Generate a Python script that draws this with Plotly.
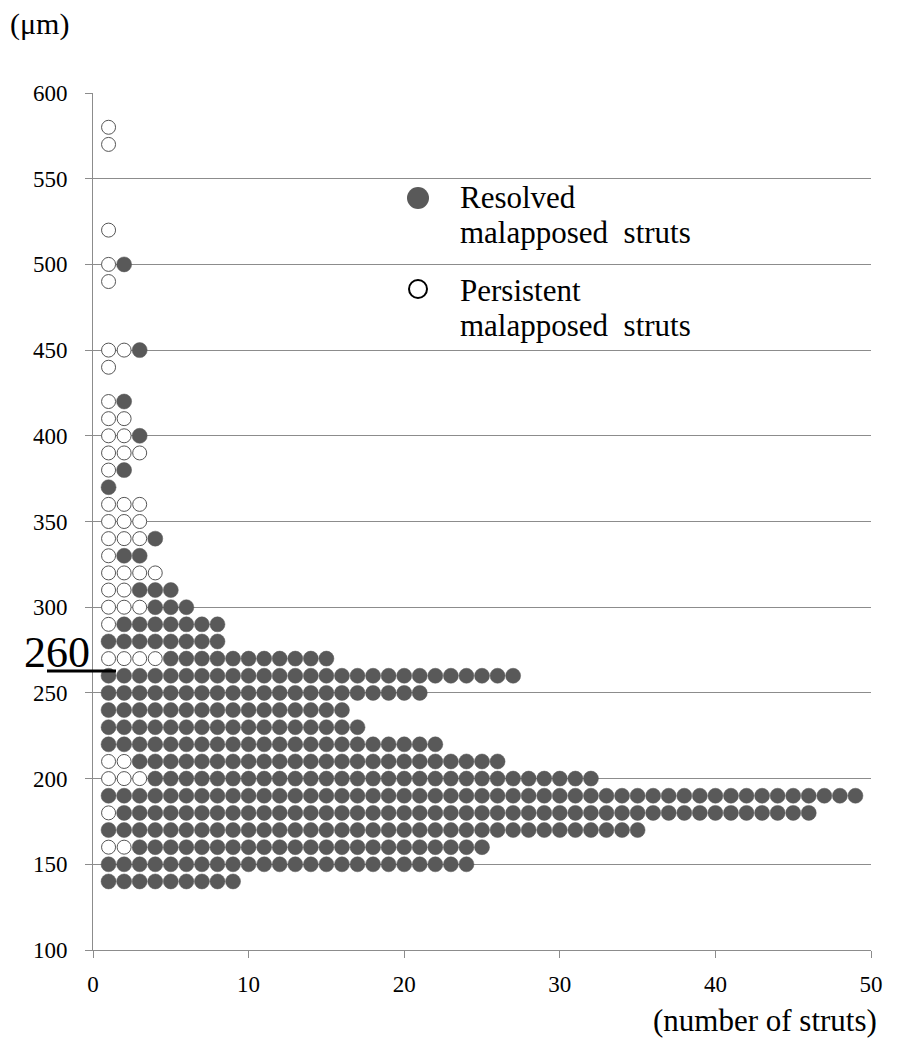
import plotly.graph_objects as go

# ---- data ----
depth_um = [580, 570, 520, 500, 490, 450, 440, 420, 410, 400, 390, 380, 370,
            360, 350, 340, 330, 320, 310, 300, 290, 280, 270, 260, 250, 240,
            230, 220, 210, 200, 190, 180, 170, 160, 150, 140]
struts_per_row = [1, 1, 1, 2, 1, 3, 1, 2, 2, 3, 3, 2, 1,
                  3, 3, 4, 3, 4, 5, 6, 8, 8, 15, 27, 21, 16,
                  17, 22, 26, 32, 49, 46, 35, 25, 24, 9]
persistent_pos = [[1], [1], [1], [1], [1], [1, 2], [1], [1], [1, 2], [1, 2], [1, 2, 3], [1], [],
                  [1, 2, 3], [1, 2, 3], [1, 2, 3], [1], [1, 2, 3, 4], [1, 2], [1, 2, 3], [1], [], [1, 2, 3, 4], [], [], [],
                  [], [], [1, 2], [1, 2, 3], [], [1], [], [1, 2], [], []]

x_ticks = [0, 10, 20, 30, 40, 50]
y_ticks = [100, 150, 200, 250, 300, 350, 400, 450, 500, 550, 600]
legend_labels = ["Resolved", "malapposed\u00a0 struts", "Persistent", "malapposed\u00a0 struts"]

# ---- build marks ----
res_x, res_y, per_x, per_y = [], [], [], []
for d, n, pers in zip(depth_um, struts_per_row, persistent_pos):
    for k in range(1, n + 1):
        if k in pers:
            per_x.append(k); per_y.append(d)
        else:
            res_x.append(k); res_y.append(d)

DARK = "#595959"
GRID = "#8c8c8c"
FONT = "Times New Roman, Liberation Serif, Times, serif"

fig = go.Figure()
fig.add_trace(go.Scatter(x=res_x, y=res_y, mode="markers", name="Resolved malapposed struts",
                         marker=dict(size=15, color=DARK, line=dict(width=0.5, color=DARK)),
                         cliponaxis=False, showlegend=False))
fig.add_trace(go.Scatter(x=per_x, y=per_y, mode="markers", name="Persistent malapposed struts",
                         marker=dict(size=14, color="white", line=dict(width=1, color="#555555")),
                         cliponaxis=False, showlegend=False))

O = 8  # page offset of the figure inside the browser
W, H = 903 - O, 1052 - O
L, R, T, B = 93 - O, 32, 93 - O, 102
pw, ph = W - L - R, H - T - B


def px(xp):
    return (xp - O - L) / pw


def py(yp):
    return (H - B - (yp - O)) / ph


fig.update_layout(
    width=W, height=H,
    margin=dict(l=L, r=R, t=T, b=B),
    paper_bgcolor="white", plot_bgcolor="white",
    font=dict(family=FONT, color="black", size=22),
    showlegend=False,
    xaxis=dict(range=[0, 50], tickvals=x_ticks, showgrid=False, zeroline=False,
               showline=True, linecolor=GRID, linewidth=1,
               ticks="outside", ticklen=7, tickcolor=GRID,
               tickfont=dict(family=FONT, size=23, color="black"), ticklabelstandoff=6),
    yaxis=dict(range=[100, 600], tickvals=y_ticks, showgrid=True, gridcolor=GRID, gridwidth=1,
               zeroline=False, showline=True, linecolor=GRID, linewidth=1,
               ticks="outside", ticklen=7, tickcolor=GRID,
               tickfont=dict(family=FONT, size=23, color="black"), ticklabelstandoff=13),
)

annos = [
    dict(text="(\u03bcm)", x=px(8), y=py(24), xanchor="left", yanchor="middle", font=dict(size=30)),
    dict(text="(number of struts)", x=px(879), y=py(1020), xanchor="right", yanchor="middle", font=dict(size=31)),
    dict(text="260", x=px(57), y=py(652), xanchor="center", yanchor="middle", font=dict(size=44)),
    dict(text=legend_labels[0], x=px(458), y=py(198), xanchor="left", yanchor="middle", font=dict(size=31)),
    dict(text=legend_labels[1], x=px(458), y=py(233), xanchor="left", yanchor="middle", font=dict(size=31)),
    dict(text=legend_labels[2], x=px(458), y=py(290), xanchor="left", yanchor="middle", font=dict(size=31)),
    dict(text=legend_labels[3], x=px(458), y=py(325), xanchor="left", yanchor="middle", font=dict(size=31)),
]
for a in annos:
    a.update(xref="paper", yref="paper", showarrow=False)
    a["font"].update(family=FONT, color="black")
fig.update_layout(annotations=annos)

shapes = [
    # underline pointer for 260
    dict(type="line", xref="paper", yref="paper", x0=px(47), x1=px(116), y0=py(671), y1=py(671),
         line=dict(color="black", width=3)),
    # legend keys
    dict(type="circle", xref="paper", yref="paper", xsizemode="pixel", ysizemode="pixel",
         xanchor=px(418), yanchor=py(198), x0=-11, x1=11, y0=-11, y1=11,
         fillcolor=DARK, line=dict(color=DARK, width=0)),
    dict(type="circle", xref="paper", yref="paper", xsizemode="pixel", ysizemode="pixel",
         xanchor=px(418), yanchor=py(289), x0=-9, x1=9, y0=-9, y1=9,
         fillcolor="white", line=dict(color="black", width=2)),
]
fig.update_layout(shapes=shapes)

fig.write_html("out.html")
